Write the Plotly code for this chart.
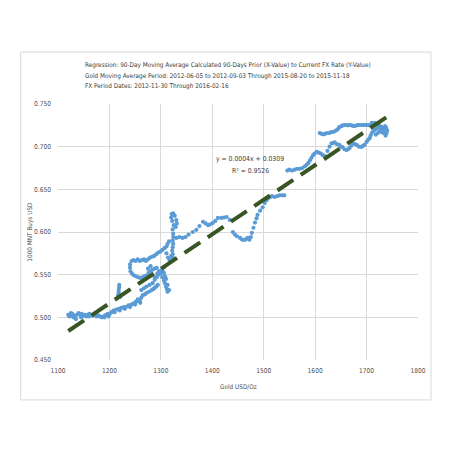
import plotly.graph_objects as go

# Gold 90-day moving average (USD/Oz) vs FX rate (1000 MNT in USD)
gold_usd = [
    1120, 1122, 1125, 1128, 1130, 1133, 1135, 1137, 1140, 1143, 1146, 1149, 1152, 1155, 1158, 1161, 1164, 1167, 1170, 1173,
    1176, 1179, 1182, 1185, 1188, 1191, 1194, 1197, 1200, 1125, 1132, 1145, 1160, 1175, 1190, 1198,
    1204, 1208, 1213, 1218, 1223, 1228, 1232, 1237, 1242, 1246, 1251, 1255, 1259, 1262, 1265, 1269, 1272, 1277, 1282, 1285,
    1288, 1291, 1294, 1210, 1220, 1230, 1240, 1250, 1260, 1255,
    1217, 1218, 1218, 1219, 1219, 1221,
    1262, 1267, 1272, 1278, 1284, 1288, 1292, 1296, 1299,
    1296, 1300, 1303, 1306, 1308, 1310, 1312, 1313, 1303, 1306, 1308, 1310, 1313, 1316, 1288, 1293, 1298, 1303, 1307,
    1240, 1243, 1247, 1251, 1255, 1259, 1263, 1267, 1271, 1275, 1279, 1283, 1287, 1291, 1295, 1299, 1303, 1307, 1311,
    1240, 1241, 1244, 1248, 1252, 1256, 1260, 1264, 1268, 1272, 1276, 1280, 1284, 1288, 1292, 1280, 1275,
    1311, 1314, 1317, 1313, 1316,
    1322, 1323, 1323, 1322, 1323, 1324, 1323, 1324, 1320,
    1324, 1323, 1325, 1322, 1320, 1321, 1324, 1327, 1330, 1331, 1329,
    1330, 1336, 1342, 1348, 1354, 1362, 1369, 1375, 1382, 1387, 1392, 1396, 1401, 1406, 1411, 1418, 1423, 1428, 1434,
    1440, 1444, 1448, 1454, 1458, 1463, 1466, 1469, 1472, 1475, 1477, 1480, 1483, 1486, 1488, 1493, 1498, 1502, 1506, 1510,
    1512, 1516, 1521, 1526, 1531, 1536, 1540,
    1546, 1550, 1555, 1560, 1565, 1570, 1575, 1580, 1584, 1587, 1590, 1593, 1596, 1599,
    1603, 1607, 1611, 1615, 1619, 1624, 1628, 1632,
    1634, 1638, 1642, 1647, 1650, 1653, 1657, 1661, 1664, 1667, 1670, 1673, 1677, 1681, 1685, 1690, 1693, 1696, 1700, 1703,
    1706, 1708, 1710, 1713, 1716, 1720, 1725, 1728, 1731, 1735, 1739, 1737, 1733, 1738, 1740, 1736, 1734, 1730, 1726, 1722, 1718,
    1609, 1612, 1616, 1619, 1623, 1628, 1631, 1634, 1638, 1642, 1645, 1647, 1651, 1654, 1657, 1661, 1664, 1667, 1671, 1674,
    1677, 1681, 1684, 1687, 1691, 1694, 1697, 1700, 1703, 1706, 1710, 1713, 1716, 1719, 1722, 1726, 1730,
]
fx_rate = [
    0.503, 0.501, 0.502, 0.504, 0.500, 0.502, 0.498, 0.503, 0.505, 0.503, 0.504, 0.502, 0.503, 0.501, 0.503, 0.504, 0.503, 0.502, 0.503, 0.502,
    0.501, 0.502, 0.501, 0.500, 0.501, 0.502, 0.503, 0.504, 0.503, 0.505, 0.500, 0.500, 0.501, 0.503, 0.500, 0.501,
    0.506, 0.508, 0.509, 0.510, 0.511, 0.512, 0.512, 0.514, 0.5145, 0.516, 0.518, 0.519, 0.520, 0.523, 0.526, 0.527, 0.5285, 0.530, 0.532, 0.533,
    0.5345, 0.536, 0.538, 0.506, 0.508, 0.510, 0.512, 0.515, 0.517, 0.521,
    0.526, 0.529, 0.532, 0.535, 0.538, 0.524,
    0.532, 0.534, 0.536, 0.538, 0.540, 0.544, 0.547, 0.550, 0.553,
    0.554, 0.551, 0.547, 0.543, 0.540, 0.536, 0.533, 0.530, 0.555, 0.552, 0.548, 0.545, 0.538, 0.532, 0.547, 0.551, 0.554, 0.557, 0.559,
    0.562, 0.566, 0.567, 0.566, 0.568, 0.566, 0.567, 0.568, 0.566, 0.568, 0.570, 0.571, 0.572, 0.574, 0.576, 0.577, 0.579, 0.581, 0.583,
    0.558, 0.554, 0.551, 0.549, 0.548, 0.547, 0.546, 0.547, 0.548, 0.549, 0.552, 0.554, 0.556, 0.557, 0.558, 0.560, 0.557,
    0.575, 0.570, 0.567, 0.586, 0.589,
    0.566, 0.570, 0.574, 0.578, 0.582, 0.586, 0.590, 0.594, 0.572,
    0.598, 0.603, 0.608, 0.613, 0.617, 0.621, 0.622, 0.619, 0.614, 0.610, 0.606,
    0.593, 0.594, 0.593, 0.594, 0.597, 0.600, 0.6025, 0.607, 0.612, 0.610, 0.608, 0.609, 0.6106, 0.613, 0.6165, 0.6165, 0.617, 0.6176, 0.6141,
    0.600, 0.597, 0.595, 0.593, 0.591, 0.5906, 0.592, 0.593, 0.591, 0.594, 0.599, 0.605, 0.611, 0.616, 0.620, 0.625, 0.629, 0.634, 0.6375, 0.640,
    0.641, 0.642, 0.641, 0.642, 0.643, 0.643, 0.643,
    0.672, 0.673, 0.672, 0.673, 0.674, 0.674, 0.675, 0.677, 0.679, 0.681, 0.684, 0.687, 0.690, 0.692,
    0.694, 0.693, 0.692, 0.690, 0.689, 0.695, 0.700, 0.704,
    0.704, 0.705, 0.703, 0.702, 0.700, 0.6996, 0.697, 0.696, 0.697, 0.6985, 0.701, 0.704, 0.703, 0.702, 0.700, 0.6996, 0.701, 0.702, 0.7055, 0.708,
    0.710, 0.713, 0.716, 0.718, 0.7197, 0.721, 0.722, 0.720, 0.7197, 0.718, 0.716, 0.713, 0.716, 0.722, 0.719, 0.724, 0.721, 0.717, 0.718, 0.716, 0.714,
    0.716, 0.715, 0.7145, 0.7149, 0.716, 0.716, 0.7172, 0.7172, 0.718, 0.7195, 0.721, 0.723, 0.724, 0.725, 0.7254, 0.7254, 0.725, 0.7254, 0.725, 0.7242,
    0.7242, 0.725, 0.7254, 0.7254, 0.7254, 0.7254, 0.7254, 0.7254, 0.7254, 0.725, 0.7278, 0.726, 0.7278, 0.726, 0.7254, 0.724, 0.723,
]

# Linear trendline endpoints (from fitted regression)
trend_x = [1120, 1740]
trend_y = [0.484, 0.735]

x_ticks = [1100, 1200, 1300, 1400, 1500, 1600, 1700, 1800]
y_ticks = [0.450, 0.500, 0.550, 0.600, 0.650, 0.700, 0.750]

title_lines = [
    "Regression: 90-Day Moving Average Calculated 90-Days Prior (X-Value) to Current FX Rate (Y-Value)",
    "Gold Moving Average Period: 2012-06-05 to 2012-09-03 Through 2015-08-20 to 2015-11-18",
    "FX Period Dates: 2012-11-30 Through 2016-02-16",
]
title_y = [1.152, 1.111, 1.070]
equation_text = ["y = 0.0004x + 0.0309", "R² = 0.9526"]
equation_y = [0.6856, 0.6715]
x_title = "Gold USD/Oz"
y_title = "1000 MNT Buys USD"

FONT = "Liberation Sans Narrow, DejaVu Sans Condensed, Arial Narrow, sans-serif"
GRAY = "#505050"

fig = go.Figure()
fig.add_trace(go.Scatter(
    x=gold_usd, y=fx_rate, mode="markers",
    marker=dict(color="#5B9BD5", size=4.2, line=dict(width=0)),
    showlegend=False, hoverinfo="skip",
))
fig.add_trace(go.Scatter(
    x=trend_x, y=trend_y, mode="lines",
    line=dict(color="#375623", width=4, dash="19px,9px"),
    showlegend=False, hoverinfo="skip",
))

annotations = []
for line, yy in zip(title_lines, title_y):
    annotations.append(dict(text=line, xref="paper", yref="paper", x=0.0687, y=yy,
                            xanchor="left", yanchor="middle", align="left", showarrow=False,
                            font=dict(family=FONT, size=6.4, color="#404040")))
for line, yy in zip(equation_text, equation_y):
    annotations.append(dict(text=line, xref="x", yref="y", x=1474, y=yy,
                            xanchor="center", yanchor="middle", showarrow=False,
                            font=dict(family=FONT, size=6.8, color="#404040")))
annotations.append(dict(text=x_title, xref="paper", yref="paper", x=0.5, y=-0.104,
                        xanchor="center", yanchor="middle", showarrow=False,
                        font=dict(family=FONT, size=6.4, color=GRAY)))
annotations.append(dict(text=y_title, xref="paper", yref="paper", x=-0.0787, y=0.5, textangle=-90,
                        xanchor="center", yanchor="middle", showarrow=False,
                        font=dict(family=FONT, size=6.4, color=GRAY)))

fig.update_layout(
    width=436, height=436,
    margin=dict(l=50, r=26, t=96, b=84),
    paper_bgcolor="white", plot_bgcolor="white",
    font=dict(family=FONT, size=7, color=GRAY),
    xaxis=dict(range=[1100, 1800], tickvals=x_ticks, ticktext=[str(v) for v in x_ticks],
               showgrid=True, gridcolor="#D9D9D9", gridwidth=1, zeroline=False,
               showline=False, ticks="", ticklabelstandoff=5, tickfont=dict(size=6.6, color=GRAY)),
    yaxis=dict(range=[0.450, 0.750], tickvals=y_ticks, ticktext=[f"{v:.3f}" for v in y_ticks],
               showgrid=True, gridcolor="#D9D9D9", gridwidth=1, zeroline=False,
               showline=False, ticks="", ticklabelstandoff=6, tickfont=dict(size=6.6, color=GRAY)),
    shapes=[dict(type="rect", xref="paper", yref="paper", x0=-0.1037, x1=1.036, y0=-0.156, y1=1.203,
                 line=dict(color="#D9D9D9", width=1), fillcolor="rgba(0,0,0,0)", layer="below")],
    annotations=annotations,
)

fig.write_html("out.html")
